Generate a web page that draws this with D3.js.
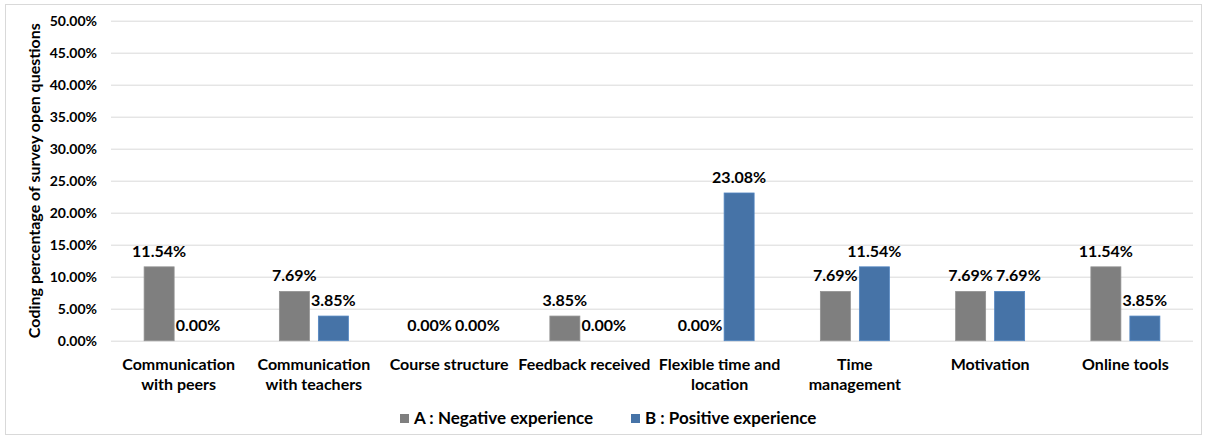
<!DOCTYPE html>
<html>
<head>
<meta charset="utf-8">
<script src="https://cdn.jsdelivr.net/npm/d3@7/dist/d3.min.js"></script>
<style>
  html, body { margin: 0; padding: 0; background: #fff; }
  svg { display: block; font-family: Lato, "Open Sans", sans-serif; }
</style>
</head>
<body>
<svg id="chart" width="1207" height="438"></svg>
<script>
// Coding categories (label lines) and the two experience series (percent)
const categories = [
  ["Communication", "with peers"],
  ["Communication", "with teachers"],
  ["Course structure"],
  ["Feedback received"],
  ["Flexible time and", "location"],
  ["Time", "management"],
  ["Motivation"],
  ["Online tools"]
];
const seriesNames = ["A : Negative experience", "B : Positive experience"];
const negative = [11.54, 7.69, 0.00, 3.85, 0.00, 7.69, 7.69, 11.54];
const positive = [0.00, 3.85, 0.00, 0.00, 23.08, 11.54, 7.69, 3.85];
const yTicks = [0, 5, 10, 15, 20, 25, 30, 35, 40, 45, 50];
const colors = ["#7f7f7f", "#4673a7"];
const yTitle = "Coding percentage of survey open questions";

const svg = d3.select("#chart");
const W = 1207, H = 438;
const m = { left: 111, right: 14, top: 20.7, bottom: 97.3 };
const pw = W - m.left - m.right, ph = H - m.top - m.bottom;

// outer frame
svg.append("rect").attr("x", 5.5).attr("y", 4.5).attr("width", W - 11).attr("height", H - 8)
  .attr("fill", "none").attr("stroke", "#d9d9d9").attr("stroke-width", 1);

const g = svg.append("g").attr("transform", `translate(${m.left},${m.top})`);

const keys = categories.map((c, i) => i);
const x0 = d3.scaleBand().domain(keys).range([0, pw]).padding(0);
const groupW = 69;
const x1 = d3.scaleBand().domain([0, 1])
  .range([x0.bandwidth() / 2 - groupW / 2, x0.bandwidth() / 2 + groupW / 2])
  .paddingInner(9 / 39).paddingOuter(0);
const y = d3.scaleLinear().domain([0, 50]).range([ph, 0]);

// gridlines
g.append("g").selectAll("line").data(yTicks).join("line")
  .attr("x1", 0).attr("x2", pw)
  .attr("y1", d => Math.round(y(d)) + 0.5).attr("y2", d => Math.round(y(d)) + 0.5)
  .attr("stroke", "#d9d9d9").attr("stroke-width", 1);

// y axis labels
const yAxis = d3.axisLeft(y).tickValues(yTicks).tickFormat(d => d.toFixed(2) + "%").tickSize(0).tickPadding(14);
const ya = g.append("g").call(yAxis);
ya.select(".domain").remove();
ya.selectAll("text").attr("font-size", 14).attr("font-weight", 700).attr("fill", "#000")
  .attr("font-family", "Lato, sans-serif");

// bars
const data = keys.map(i => [negative[i], positive[i]]);
const groups = g.append("g").selectAll("g").data(data).join("g")
  .attr("transform", (d, i) => `translate(${x0(i)},0)`);

groups.selectAll("rect").data(d => d.map((v, s) => ({ v, s }))).join("rect")
  .attr("x", d => x1(d.s)).attr("width", x1.bandwidth())
  .attr("y", d => y(d.v)).attr("height", d => ph - y(d.v))
  .attr("fill", d => colors[d.s])
  .attr("stroke", d => d.v > 0 ? d3.color(colors[d.s]).brighter(0.4) : "none")
  .attr("stroke-width", 0.8);

// value labels
groups.selectAll("text").data(d => d.map((v, s) => ({ v, s }))).join("text")
  .attr("x", d => x1(d.s) + x1.bandwidth() / 2)
  .attr("y", d => y(d.v) - 10)
  .attr("text-anchor", "middle")
  .attr("font-size", 16).attr("font-weight", 700).attr("fill", "#000")
  .text(d => d.v.toFixed(2) + "%");

// nudge the second label of a pair right when the two labels collide
groups.each(function () {
  const t = d3.select(this).selectAll("text").nodes();
  if (t.length < 2) return;
  const a = t[0].getBBox(), b = t[1].getBBox();
  const vOverlap = a.y < b.y + b.height && b.y < a.y + a.height;
  const gap = 3;
  if (vOverlap && a.x + a.width + gap > b.x) {
    const shift = a.x + a.width + gap - b.x;
    d3.select(t[1]).attr("x", +d3.select(t[1]).attr("x") + shift);
  }
});

// category labels
const cat = g.append("g").selectAll("text").data(categories).join("text")
  .attr("x", (d, i) => x0(i) + x0.bandwidth() / 2)
  .attr("y", ph + 29)
  .attr("text-anchor", "middle")
  .attr("font-size", 16).attr("font-weight", 700).attr("fill", "#000");
cat.selectAll("tspan").data(d => d).join("tspan")
  .attr("x", function () { return d3.select(this.parentNode).attr("x"); })
  .attr("dy", (d, i) => i === 0 ? 0 : 20)
  .text(d => d);

// y axis title
svg.append("text")
  .attr("transform", `translate(40,${m.top + ph / 2}) rotate(-90)`)
  .attr("text-anchor", "middle")
  .attr("font-size", 16).attr("font-weight", 700).attr("fill", "#000")
  .text(yTitle);

// legend
const legendX = [400, 631];
const lg = svg.append("g").selectAll("g").data(seriesNames).join("g")
  .attr("transform", (d, i) => `translate(${legendX[i]},414)`);
lg.append("rect").attr("width", 9).attr("height", 9).attr("fill", (d, i) => colors[i]);
lg.append("text").attr("x", 14).attr("y", 10)
  .attr("font-size", 17).attr("font-weight", 700).attr("fill", "#000")
  .text(d => d);
</script>
</body>
</html>
